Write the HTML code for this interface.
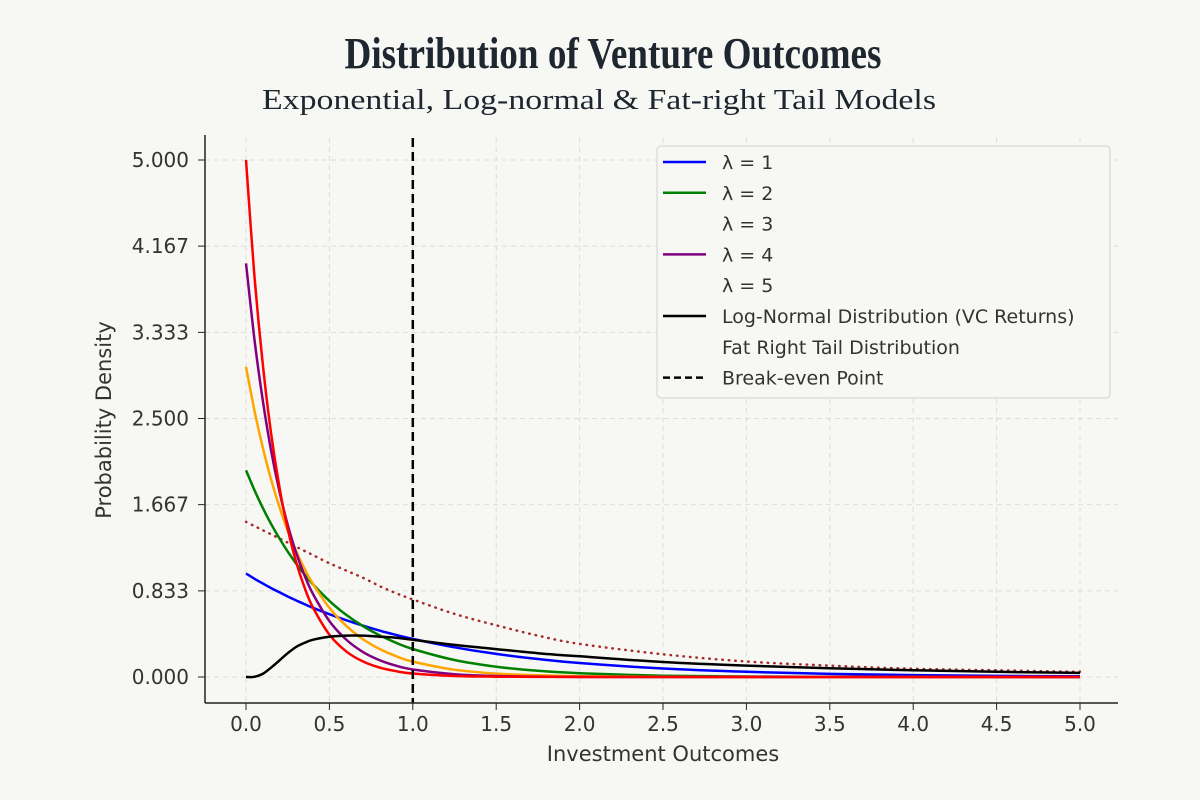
<!DOCTYPE html>
<html><head><meta charset="utf-8"><style>
body{margin:0;background:#f7f8f4}
svg{display:block}
</style></head><body>
<svg id="chart" width="1200" height="800" viewBox="0 0 1200 800" xmlns="http://www.w3.org/2000/svg">
<rect width="1200" height="800" fill="#f7f8f4"/>
<text x="613" y="68" text-anchor="middle" font-family="Liberation Serif, serif" font-weight="bold" font-size="44" fill="#1e2630" textLength="537" lengthAdjust="spacingAndGlyphs">Distribution of Venture Outcomes</text>
<text x="599" y="109" text-anchor="middle" font-family="Liberation Serif, serif" font-size="28" fill="#1e2630" textLength="674" lengthAdjust="spacingAndGlyphs">Exponential, Log-normal &amp; Fat-right Tail Models</text>
<g id="grid"></g>
<g id="series"></g>
<g id="axes"></g>
<g id="legend"></g>
</svg>
<script>
const xVals=[0,0.05,0.1,0.15,0.2,0.25,0.3,0.35,0.4,0.5,0.6,0.7,0.8,0.9,1.0,1.25,1.5,1.75,2,2.5,3,3.5,4,4.5,5];
const lambda1=[1,.951,.905,.861,.819,.779,.741,.705,.670,.607,.549,.497,.449,.407,.368,.287,.223,.174,.135,.082,.050,.030,.018,.011,.007];
const lambda2=[2,1.810,1.637,1.482,1.341,1.213,1.098,.993,.899,.736,.602,.493,.404,.331,.271,.164,.100,.060,.037,.013,.005,.002,.001,0,0];
const lambda3=[3,2.582,2.222,1.913,1.646,1.417,1.220,1.050,.904,.669,.496,.367,.272,.201,.149,.071,.033,.016,.007,.002,0,0,0,0,0];
const lambda4=[4,3.275,2.681,2.195,1.797,1.472,1.205,.986,.808,.541,.363,.243,.163,.109,.073,.027,.010,.004,.001,0,0,0,0,0,0];
const lambda5=[5,3.894,3.033,2.362,1.839,1.433,1.116,.869,.677,.410,.249,.151,.092,.056,.034,.010,.003,.001,0,0,0,0,0,0,0];
const logNormal=[0,.002,.03,.09,.16,.23,.29,.33,.36,.39,.40,.40,.39,.38,.36,.31,.27,.23,.20,.145,.11,.085,.065,.05,.04];
const fatTail=[1.5,1.46,1.42,1.38,1.34,1.30,1.26,1.22,1.18,1.10,1.03,.96,.88,.81,.75,.61,.50,.40,.32,.22,.15,.11,.08,.065,.05];
const breakEven=1.0;
const xTicks=[0,0.5,1,1.5,2,2.5,3,3.5,4,4.5,5];
const xTickLabels=["0.0","0.5","1.0","1.5","2.0","2.5","3.0","3.5","4.0","4.5","5.0"];
const yTicks=[0,0.833,1.667,2.5,3.333,4.167,5];
const yTickLabels=["0.000","0.833","1.667","2.500","3.333","4.167","5.000"];
const legendLabels=["λ = 1","λ = 2","λ = 3","λ = 4","λ = 5","Log-Normal Distribution (VC Returns)","Fat Right Tail Distribution","Break-even Point"];

const NS="http://www.w3.org/2000/svg";
const X=v=>246+v*166.8, Y=v=>677-v*103.4;
function mk(tag,attrs,parent){const e=document.createElementNS(NS,tag);for(const k in attrs)e.setAttribute(k,attrs[k]);parent.appendChild(e);return e;}
const grid=document.getElementById('grid'),ser=document.getElementById('series'),axes=document.getElementById('axes'),leg=document.getElementById('legend');
xTicks.forEach(t=>{const l=mk('line',{x1:X(t),x2:X(t),y1:138,y2:703,stroke:'#dcdcdc','stroke-dasharray':'5,4','stroke-width':1},grid);

});
yTicks.forEach(t=>{const l=mk('line',{x1:205,x2:1118,y1:Y(t),y2:Y(t),stroke:'#dcdcdc','stroke-dasharray':'5,4','stroke-width':1},grid);

});
function path(vals){
  const pts=vals.map((v,i)=>[X(xVals[i]),Y(v)]);
  let d='M'+pts[0][0].toFixed(1)+','+pts[0][1].toFixed(1);
  for(let i=0;i<pts.length-1;i++){
    const p0=pts[i-1]||pts[i],p1=pts[i],p2=pts[i+1],p3=pts[i+2]||p2;
    const c1=[p1[0]+(p2[0]-p0[0])/6,p1[1]+(p2[1]-p0[1])/6],c2=[p2[0]-(p3[0]-p1[0])/6,p2[1]-(p3[1]-p1[1])/6];
    d+='C'+c1[0].toFixed(1)+','+c1[1].toFixed(1)+' '+c2[0].toFixed(1)+','+c2[1].toFixed(1)+' '+p2[0].toFixed(1)+','+p2[1].toFixed(1);
  }
  return d;}
function curve(vals,color,name,dash){const p=mk('path',{d:path(vals),fill:'none',stroke:color,'stroke-width':2.5,'stroke-linejoin':'round'},ser);
if(dash){p.setAttribute('stroke-dasharray',dash);p.setAttribute('stroke-linecap','round');}

}
curve(fatTail,'#a52a2a','fat-tail-line','0.5,6');
curve(lambda1,'#0000ff','lambda-1-line');
curve(lambda2,'#008000','lambda-2-line');
curve(lambda3,'#ffa500','lambda-3-line');
curve(lambda4,'#800080','lambda-4-line');
curve(lambda5,'#ff0000','lambda-5-line');
curve(logNormal,'#000000','lognormal-line');
const be=mk('line',{x1:X(breakEven),x2:X(breakEven),y1:138,y2:703,stroke:'#000','stroke-width':2.5,'stroke-dasharray':'9,5'},ser);


mk('line',{x1:205,x2:205,y1:135,y2:703,stroke:'#222','stroke-width':1.5},axes);
mk('line',{x1:205,x2:1118,y1:703,y2:703,stroke:'#222','stroke-width':1.5},axes);
xTicks.forEach((t,i)=>{mk('line',{x1:X(t),x2:X(t),y1:703,y2:710,stroke:'#222'},axes);
const tx=mk('text',{x:X(t),y:731,'text-anchor':'middle','font-family':'DejaVu Sans, sans-serif','font-size':20,fill:'#333'},axes);tx.textContent=xTickLabels[i];

});
yTicks.forEach((t,i)=>{mk('line',{x1:198,x2:205,y1:Y(t),y2:Y(t),stroke:'#222'},axes);
const tx=mk('text',{x:189,y:Y(t)+7,'text-anchor':'end','font-family':'DejaVu Sans, sans-serif','font-size':20,fill:'#333'},axes);tx.textContent=yTickLabels[i];

});
const xt=mk('text',{x:663,y:761,'text-anchor':'middle','font-family':'DejaVu Sans, sans-serif','font-size':21,fill:'#333'},axes);xt.textContent='Investment Outcomes';


const yt=mk('text',{x:0,y:0,'text-anchor':'middle','font-family':'DejaVu Sans, sans-serif','font-size':21,fill:'#333',transform:'translate(111,420) rotate(-90)'},axes);yt.textContent='Probability Density';


const box=mk('rect',{x:657,y:146,width:453,height:252,rx:4,fill:'#f7f8f4',stroke:'#d8d8d8','stroke-width':1.2},leg);


const legColors=['#0000ff','#008000',null,'#800080',null,'#000',null,'#000'];
legendLabels.forEach((lab,i)=>{const y=162+i*30.8;
if(legColors[i]){const l=mk('line',{x1:663,x2:706,y1:y,y2:y,stroke:legColors[i],'stroke-width':2.5},leg);
if(i===7)l.setAttribute('stroke-dasharray','7,4');

}
const t=mk('text',{x:722,y:y+7,'font-family':'DejaVu Sans, sans-serif','font-size':19,fill:'#333'},leg);t.textContent=lab;

});
</script>
</body></html>
